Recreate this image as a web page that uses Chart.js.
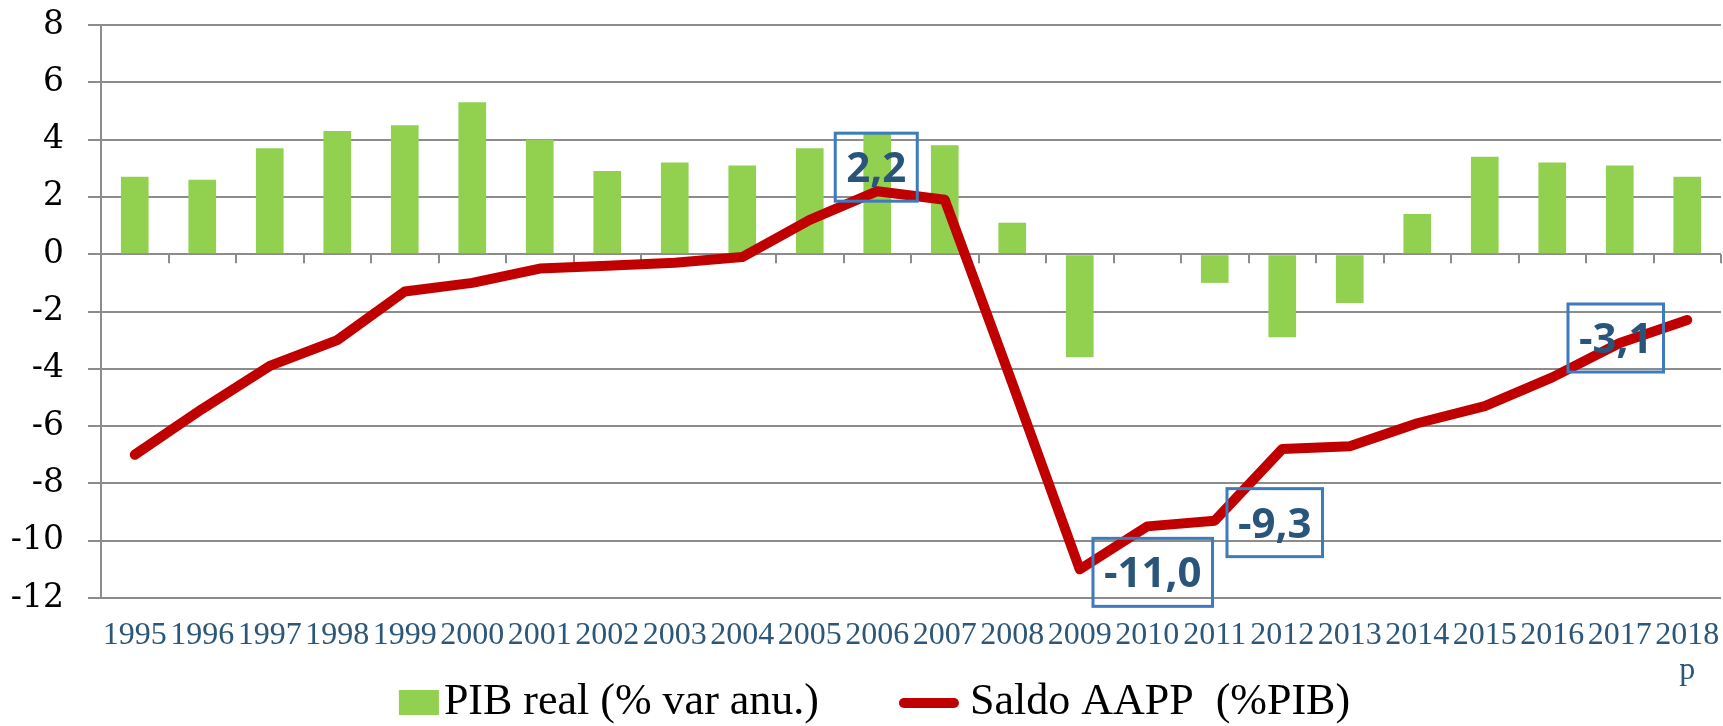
<!DOCTYPE html>
<html lang="es">
<head>
  <meta charset="UTF-8" />
  <title>PIB real y Saldo AAPP</title>
  <script src="https://cdn.jsdelivr.net/npm/chart.js"></script>
  <style>
    body { margin: 0; background: #fff; }
    #chart { display: block; }
  </style>
</head>
<body>
  <canvas id="chart" width="1723" height="726"></canvas>

  <script>
    // Data
    const years = ['1995', '1996', '1997', '1998', '1999', '2000', '2001', '2002', '2003', '2004', '2005', '2006',
                   '2007', '2008', '2009', '2010', '2011', '2012', '2013', '2014', '2015', '2016', '2017', ['2018', 'p']];
    const pibReal = [2.7, 2.6, 3.7, 4.3, 4.5, 5.3, 4.0, 2.9, 3.2, 3.1, 3.7, 4.2,
                     3.8, 1.1, -3.6, 0.0, -1.0, -2.9, -1.7, 1.4, 3.4, 3.2, 3.1, 2.7];
    const saldoAAPP = [-7.0, -5.4, -3.9, -3.0, -1.3, -1.0, -0.5, -0.4, -0.3, -0.1, 1.2, 2.2,
                       1.9, -4.5, -11.0, -9.5, -9.3, -6.8, -6.7, -5.9, -5.3, -4.3, -3.1, -2.3];
    const seriesNames = ['PIB real (% var anu.)', 'Saldo AAPP  (%PIB)'];
    const yMin = -12, yMax = 8, yStep = 2;

    // Points of the red line that get a boxed value
    const calloutIdx = [11, 14, 16, 22];
    const calloutOffsets = [[-1, -24], [73, 3], [60, 2], [-4, -5]];

    const green = '#92D050';
    const red = '#C00000';
    const gridGray = '#8C8C8C';

    // small tick marks hanging from the zero line, at category boundaries
    const zeroTicksPlugin = {
      id: 'zeroTicks',
      beforeDatasetsDraw(chart) {
        const x = chart.scales.x, y = chart.scales.y;
        const y0 = y.getPixelForValue(0);
        const ctx = chart.ctx;
        const half = (x.getPixelForValue(1) - x.getPixelForValue(0)) / 2;
        ctx.save();
        ctx.strokeStyle = gridGray;
        ctx.lineWidth = 2;
        ctx.beginPath();
        for (let i = 0; i <= years.length; i++) {
          const px = Math.round(x.getPixelForValue(i) - half);
          ctx.moveTo(px, y0);
          ctx.lineTo(px, y0 + 9);
        }
        ctx.stroke();
        ctx.restore();
      }
    };

    const calloutPlugin = {
      id: 'callouts',
      afterDatasetsDraw(chart) {
        const meta = chart.getDatasetMeta(1);
        const ctx = chart.ctx;
        ctx.save();
        ctx.font = 'bold 42px "Open Sans"';
        ctx.textAlign = 'center';
        ctx.textBaseline = 'alphabetic';
        calloutIdx.forEach((idx, i) => {
          const pt = meta.data[idx];
          const [dx, dy] = calloutOffsets[i];
          const text = saldoAAPP[idx].toFixed(1).replace('.', ',');
          const w = ctx.measureText(text).width + 22;
          const h = 68;
          const cx = pt.x + dx;
          const cy = pt.y + dy;
          ctx.strokeStyle = '#3B7BBE';
          ctx.lineWidth = 3;
          ctx.strokeRect(cx - w / 2, cy - h / 2, w, h);
          ctx.fillStyle = '#29557A';
          ctx.fillText(text, cx, cy + 15);
        });
        ctx.restore();
      }
    };

    // legend drawn by hand so the swatch sits right against its text
    const legendPlugin = {
      id: 'bottomLegend',
      afterDraw(chart) {
        const ctx = chart.ctx;
        const ly = 702;
        ctx.save();
        ctx.font = '44px "Liberation Serif"';
        ctx.textBaseline = 'middle';
        const w1 = ctx.measureText(seriesNames[0]).width;
        const w2 = ctx.measureText(seriesNames[1]).width;
        const total = 40 + 5 + w1 + 81 + 55 + 13 + w2;
        let x = (chart.width - total) / 2 + 12;
        ctx.fillStyle = green;
        ctx.fillRect(x, ly - 12, 40, 25);
        x += 45;
        ctx.fillStyle = '#000';
        ctx.fillText(seriesNames[0], x, ly);
        x += w1 + 81;
        ctx.strokeStyle = red;
        ctx.lineWidth = 10;
        ctx.lineCap = 'round';
        ctx.beginPath();
        ctx.moveTo(x + 4, ly + 1);
        ctx.lineTo(x + 54, ly + 1);
        ctx.stroke();
        x += 70;
        ctx.fillText(seriesNames[1], x, ly);
        ctx.restore();
      }
    };

    new Chart(document.getElementById('chart'), {
      type: 'bar',
      data: {
        labels: years,
        datasets: [
          {
            label: seriesNames[0],
            data: pibReal,
            backgroundColor: green,
            barPercentage: 0.41,
            categoryPercentage: 1,
            order: 1
          },
          {
            type: 'line',
            label: seriesNames[1],
            data: saldoAAPP,
            borderColor: red,
            backgroundColor: red,
            borderWidth: 10,
            borderCapStyle: 'round',
            borderJoinStyle: 'round',
            pointRadius: 0,
            tension: 0,
            fill: false,
            order: 0
          }
        ]
      },
      options: {
        responsive: false,
        devicePixelRatio: 1,
        animation: false,
        layout: { padding: { top: 25, right: 2, bottom: 37, left: 0 } },
        scales: {
          x: {
            grid: { display: false, drawTicks: false },
            border: { display: false },
            ticks: {
              color: '#2C5778',
              font: { family: '"Liberation Serif"', size: 32, lineHeight: 1.1 },
              padding: 20,
              maxRotation: 0,
              autoSkip: false
            },
            afterFit(scale) {
              scale.height = 91;
              scale.paddingLeft = 0;
              scale.paddingRight = 0;
            }
          },
          y: {
            min: yMin,
            max: yMax,
            ticks: {
              stepSize: yStep,
              color: '#000',
              font: { family: '"DejaVu Serif"', size: 33 },
              padding: 24,
              callback: v => String(v)
            },
            grid: { color: gridGray, lineWidth: 2, tickLength: 13 },
            border: { display: true, color: gridGray, width: 2 },
            afterFit(scale) {
              scale.width = 101;
              scale.paddingTop = 0;
              scale.paddingBottom = 0;
            }
          }
        },
        plugins: {
          tooltip: { enabled: false },
          legend: { display: false }
        }
      },
      plugins: [zeroTicksPlugin, calloutPlugin, legendPlugin]
    });
  </script>
</body>
</html>
